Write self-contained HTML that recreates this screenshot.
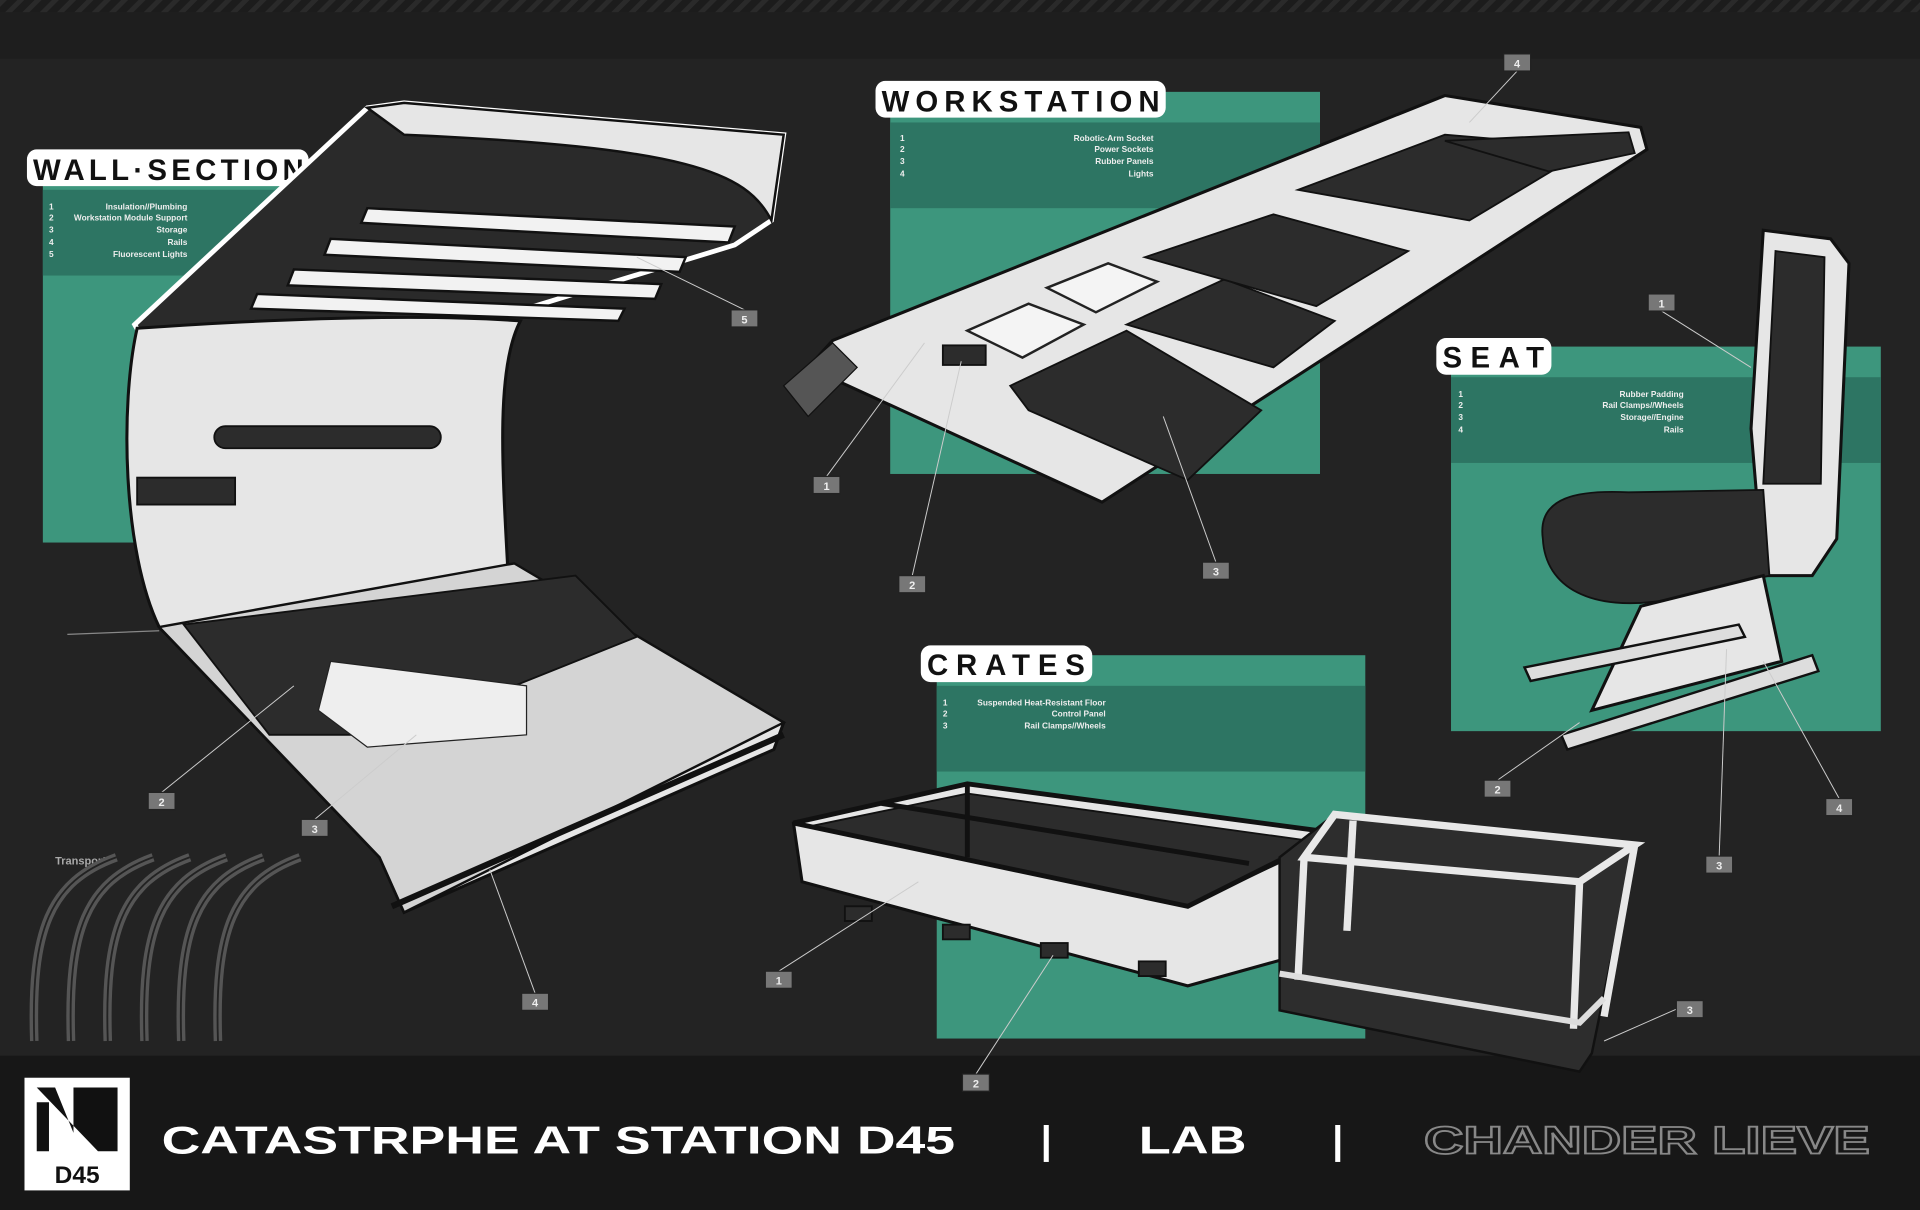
<!DOCTYPE html>
<html><head><meta charset="utf-8"><style>
html,body{margin:0;padding:0;background:#222;}
svg{display:block}
.t{font-family:"Liberation Sans",sans-serif;font-weight:bold;fill:#111;letter-spacing:1px}
.l{font-family:"Liberation Sans",sans-serif;font-weight:bold;font-size:6.8px;fill:#eee}
.n{font-family:"Liberation Sans",sans-serif;font-weight:bold;font-size:9px;fill:#eee;text-anchor:middle}
.obj{fill:#e6e6e6;stroke:#111;stroke-width:2.5}
.dk{fill:#2c2c2c;stroke:#111;stroke-width:1.5}
</style></head><body>
<svg width="1920" height="1210" viewBox="0 0 1568 988" preserveAspectRatio="none" xmlns="http://www.w3.org/2000/svg">
<defs>
<pattern id="st" width="10" height="10" patternUnits="userSpaceOnUse" patternTransform="rotate(45)">
<rect width="10" height="10" fill="#1c1c1c"/><rect width="4" height="10" fill="#2a2a2a"/></pattern>
</defs>
<rect width="1568" height="988" fill="#232323"/>
<rect width="1568" height="10" fill="url(#st)"/>
<rect y="10" width="1568" height="38" fill="#1e1e1e"/>
<!-- footer -->
<rect y="862" width="1568" height="126" fill="#171717"/>
<rect x="20" y="880" width="86" height="92" fill="#fff"/>
<path d="M30,888 L45,888 L60,925 L60,888 L96,888 L96,940 L80,940 Z M30,900 L40,900 L40,940 L30,940 Z" fill="#111"/>
<text x="63" y="966" font-family="Liberation Sans,sans-serif" font-size="20" font-weight="bold" fill="#111" text-anchor="middle">D45</text>
<g font-family="Liberation Sans,sans-serif" font-size="32" font-weight="bold">
<text x="132" y="942" fill="#fff" textLength="648" lengthAdjust="spacingAndGlyphs">CATASTRPHE AT STATION D45</text>
<text x="850" y="942" fill="#fff">|</text>
<text x="930" y="942" fill="#fff" textLength="88" lengthAdjust="spacingAndGlyphs">LAB</text>
<text x="1088" y="942" fill="#fff">|</text>
<text x="1163" y="942" fill="none" stroke="#888" stroke-width="1.5" textLength="364" lengthAdjust="spacingAndGlyphs">CHANDER LIEVE</text>
</g>
<!-- teal boxes -->
<g fill="#3d967d">
<rect x="35" y="130" width="215" height="313"/>
<rect x="727" y="75" width="351" height="312"/>
<rect x="1185" y="283" width="351" height="314"/>
<rect x="765" y="535" width="350" height="313"/>
</g>
<g fill="#2d7563">
<rect x="35" y="155" width="215" height="70"/>
<rect x="727" y="100" width="351" height="70"/>
<rect x="1185" y="308" width="351" height="70"/>
<rect x="765" y="560" width="350" height="70"/>
</g>
<!-- title badges -->
<g fill="#fff">
<rect x="22" y="122" width="230" height="30" rx="8"/>
<rect x="715" y="66" width="237" height="30" rx="8"/>
<rect x="1173" y="276" width="94" height="30" rx="8"/>
<rect x="752" y="527" width="140" height="30" rx="8"/>
</g>
<text class="t" x="27" y="147" font-size="24" textLength="222">WALL·SECTION</text>
<text class="t" x="720" y="91" font-size="24" textLength="228">WORKSTATION</text>
<text class="t" x="1178" y="300" font-size="24" textLength="84">SEAT</text>
<text class="t" x="757" y="551" font-size="24" textLength="130">CRATES</text>
<!-- lists -->
<g class="l">
<text x="40" y="171">1</text><text x="40" y="180">2</text><text x="40" y="190">3</text><text x="40" y="200">4</text><text x="40" y="210">5</text>
<g text-anchor="end"><text x="153" y="171">Insulation//Plumbing</text><text x="153" y="180">Workstation Module Support</text><text x="153" y="190">Storage</text><text x="153" y="200">Rails</text><text x="153" y="210">Fluorescent Lights</text></g>
<text x="735" y="115">1</text><text x="735" y="124">2</text><text x="735" y="134">3</text><text x="735" y="144">4</text>
<g text-anchor="end"><text x="942" y="115">Robotic-Arm Socket</text><text x="942" y="124">Power Sockets</text><text x="942" y="134">Rubber Panels</text><text x="942" y="144">Lights</text></g>
<text x="1191" y="324">1</text><text x="1191" y="333">2</text><text x="1191" y="343">3</text><text x="1191" y="353">4</text>
<g text-anchor="end"><text x="1375" y="324">Rubber Padding</text><text x="1375" y="333">Rail Clamps//Wheels</text><text x="1375" y="343">Storage//Engine</text><text x="1375" y="353">Rails</text></g>
<text x="770" y="576">1</text><text x="770" y="585">2</text><text x="770" y="595">3</text>
<g text-anchor="end"><text x="903" y="576">Suspended Heat-Resistant Floor</text><text x="903" y="585">Control Panel</text><text x="903" y="595">Rail Clamps//Wheels</text></g>
<text x="45" y="706" font-size="9" fill="#aaa">Transport</text>
</g>
<!-- wall section -->
<path d="M110,265 L300,88 L330,84 L640,110 L630,180 L600,200 L420,255 L130,300 Z" fill="#2a2a2a" stroke="#fff" stroke-width="4"/>
<path d="M300,88 L330,84 L640,110 L630,180 C610,140 560,120 330,110 Z" fill="#e6e6e6" stroke="#111" stroke-width="2"/>
<g fill="#f2f2f2" stroke="#111" stroke-width="2">
<polygon points="300,170 600,185 595,198 295,182"/>
<polygon points="270,195 560,210 555,222 265,208"/>
<polygon points="240,220 540,232 535,244 235,233"/>
<polygon points="210,240 510,252 505,262 205,252"/>
</g>
<path class="obj" d="M112,268 C200,262 330,255 425,262 C405,300 410,380 415,470 L640,590 L632,612 L330,745 L310,700 L130,512 C100,450 98,330 112,268 Z"/>
<path d="M130,512 L420,460 L640,590 L330,745 L310,700 Z" fill="#d4d4d4" stroke="#111" stroke-width="2"/>
<path class="dk" d="M150,510 L470,470 L520,520 L320,600 L220,600 Z"/>
<polygon points="270,540 430,560 430,600 300,610 260,580" fill="#eee" stroke="#222"/>
<rect x="175" y="348" width="185" height="18" rx="9" class="dk"/>
<rect x="112" y="390" width="80" height="22" class="dk"/>
<line x1="320" y1="740" x2="640" y2="600" stroke="#111" stroke-width="5"/>
<line x1="55" y1="518" x2="130" y2="515" stroke="#888"/>
<!-- transport pipes -->
<g fill="none" stroke="#555" stroke-width="7">
<path d="M95,700 C40,720 25,760 28,850"/><path d="M125,700 C70,720 55,760 58,850"/><path d="M155,700 C100,720 85,760 88,850"/><path d="M185,700 C130,720 115,760 118,850"/><path d="M215,700 C160,720 145,760 148,850"/><path d="M245,700 C190,720 175,760 178,850"/>
</g>
<g fill="none" stroke="#222" stroke-width="1.5">
<path d="M95,700 C40,720 25,760 28,850"/><path d="M125,700 C70,720 55,760 58,850"/><path d="M155,700 C100,720 85,760 88,850"/><path d="M185,700 C130,720 115,760 118,850"/><path d="M215,700 C160,720 145,760 148,850"/><path d="M245,700 C190,720 175,760 178,850"/>
</g>
<!-- workstation -->
<path class="obj" d="M680,278 L1180,78 L1340,104 L1345,122 L900,410 L660,300 Z"/>
<path d="M640,315 L680,280 L700,300 L660,340 Z" fill="#555" stroke="#111"/>
<g class="dk">
<polygon points="825,315 920,270 1030,335 970,392 840,335"/>
<polygon points="920,265 1000,228 1090,262 1040,300"/>
<polygon points="935,210 1040,175 1150,205 1075,250"/>
<polygon points="1060,155 1180,110 1300,120 1200,180"/>
<polygon points="1180,115 1330,108 1335,125 1265,140"/>
</g>
<g fill="#f4f4f4" stroke="#222" stroke-width="2">
<polygon points="790,270 840,248 885,265 835,292"/>
<polygon points="855,235 905,215 945,230 895,255"/>
</g>
<rect x="770" y="282" width="35" height="16" class="dk"/>
<!-- seat -->
<path class="obj" d="M1440,188 L1495,195 L1510,215 L1500,440 L1480,470 L1440,470 L1430,350 Z"/>
<path class="dk" d="M1450,205 L1490,210 L1487,395 L1440,395 Z"/>
<path class="dk" d="M1260,440 C1255,405 1290,400 1330,402 L1440,400 L1445,470 L1360,490 C1300,500 1262,480 1260,440 Z"/>
<path class="obj" d="M1340,495 L1440,470 L1455,540 L1300,580 Z"/>
<g fill="#ddd" stroke="#111" stroke-width="2">
<polygon points="1245,545 1420,510 1425,520 1250,556"/>
<polygon points="1275,600 1480,535 1485,548 1280,612"/>
</g>
<!-- crates -->
<path class="obj" d="M648,672 L790,640 L1090,680 L1060,780 L970,805 L655,720 Z"/>
<path class="dk" d="M660,675 L790,648 L1080,688 L970,740 Z"/>
<g fill="none" stroke="#111" stroke-width="4">
<path d="M648,672 L790,640 L1090,680 L970,740 Z"/>
<path d="M720,656 L1020,705"/><path d="M790,640 L790,700"/>
</g>
<g class="dk"><rect x="690" y="740" width="22" height="12"/><rect x="770" y="755" width="22" height="12"/><rect x="850" y="770" width="22" height="12"/><rect x="930" y="785" width="22" height="12"/></g>
<path d="M1045,700 L1090,665 L1335,690 L1300,860 L1290,875 L1045,825 Z" fill="#2d2d2d" stroke="#111" stroke-width="2"/>
<g fill="none" stroke="#e8e8e8" stroke-width="6">
<path d="M1090,665 L1335,690 L1290,720 L1065,700 Z"/>
<path d="M1065,700 L1060,800"/><path d="M1290,720 L1285,840"/><path d="M1335,690 L1310,830"/><path d="M1105,670 L1100,760"/>
</g>
<path d="M1045,795 L1290,835 L1310,815" fill="none" stroke="#ddd" stroke-width="5"/>
<!-- number tags -->
<g stroke="#ccc" stroke-width="0.8">
<line x1="608" y1="253" x2="520" y2="210"/><line x1="132" y1="647" x2="240" y2="560"/><line x1="257" y1="669" x2="340" y2="600"/><line x1="437" y1="811" x2="400" y2="710"/>
<line x1="1239" y1="58" x2="1200" y2="100"/><line x1="675" y1="389" x2="755" y2="280"/><line x1="745" y1="470" x2="785" y2="295"/><line x1="993" y1="459" x2="950" y2="340"/>
<line x1="1357" y1="254" x2="1430" y2="300"/><line x1="1223" y1="637" x2="1290" y2="590"/><line x1="1404" y1="699" x2="1410" y2="530"/><line x1="1502" y1="652" x2="1440" y2="540"/>
<line x1="636" y1="793" x2="750" y2="720"/><line x1="797" y1="877" x2="860" y2="780"/><line x1="1369" y1="824" x2="1310" y2="850"/>
</g>
<g fill="#777" stroke="#222" stroke-width="1">
<rect x="597" y="253" width="22" height="14"/><rect x="121" y="647" width="22" height="14"/><rect x="246" y="669" width="22" height="14"/><rect x="426" y="811" width="22" height="14"/>
<rect x="1228" y="44" width="22" height="14"/><rect x="664" y="389" width="22" height="14"/><rect x="734" y="470" width="22" height="14"/><rect x="982" y="459" width="22" height="14"/>
<rect x="1346" y="240" width="22" height="14"/><rect x="1212" y="637" width="22" height="14"/><rect x="1393" y="699" width="22" height="14"/><rect x="1491" y="652" width="22" height="14"/>
<rect x="625" y="793" width="22" height="14"/><rect x="786" y="877" width="22" height="14"/><rect x="1369" y="817" width="22" height="14"/>
</g>
<g class="n">
<text x="608" y="264">5</text><text x="132" y="658">2</text><text x="257" y="680">3</text><text x="437" y="822">4</text>
<text x="1239" y="55">4</text><text x="675" y="400">1</text><text x="745" y="481">2</text><text x="993" y="470">3</text>
<text x="1357" y="251">1</text><text x="1223" y="648">2</text><text x="1404" y="710">3</text><text x="1502" y="663">4</text>
<text x="636" y="804">1</text><text x="797" y="888">2</text><text x="1380" y="828">3</text>
</g>
</svg>
</body></html>
